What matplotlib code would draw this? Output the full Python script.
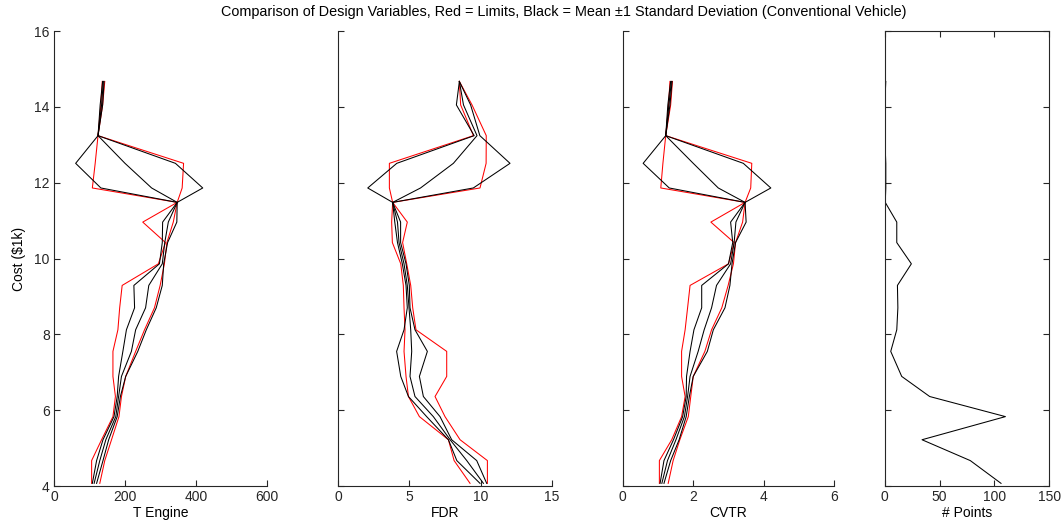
import matplotlib
matplotlib.use('Agg')
import matplotlib.pyplot as plt

plt.rcParams['font.family'] = ['Liberation Sans', 'DejaVu Sans']

# cost bins ($1k)
cost = [4.07, 4.67, 5.22, 5.83, 6.36, 6.89, 7.55, 8.12, 8.70, 9.29,
        9.86, 10.42, 10.96, 11.48, 11.86, 12.51, 13.24, 14.05, 14.67]

# T Engine
teng_min = [106, 106, 134, 166, 173, 166, 166, 180, 185, 192, 294, 314, 250, 347, 108, 116, 124, 132, 136]
teng_max = [129, 143, 162, 183, 190, 202, 230, 255, 283, 299, 311, 318, 336, 347, 361, 365, 124, 137, 143]
teng_lo = [108, 120, 138, 169, 178, 182, 194, 204, 227, 225, 297, 305, 306, 347, 132, 61, 124, 130, 137]
teng_mean = [113, 129, 146, 174, 182, 190, 218, 230, 258, 267, 305, 312, 322, 347, 275, 200, 124, 134, 139]
teng_hi = [120, 138, 154, 178, 187, 202, 236, 260, 288, 305, 309, 320, 346, 347, 419, 342, 124, 137, 141]

# FDR
fdr_min = [9.26, 8.14, 7.74, 5.70, 4.93, 4.76, 4.62, 4.69, 4.62, 4.57, 4.39, 3.80, 3.75, 3.82, 3.59, 3.59, 9.50, 8.60, 8.51]
fdr_max = [10.48, 10.48, 8.56, 7.50, 6.80, 7.62, 7.62, 5.46, 5.23, 5.09, 4.81, 4.52, 4.85, 3.82, 9.96, 10.39, 10.40, 9.40, 8.51]
fdr_lo = [9.96, 8.33, 7.74, 6.21, 4.93, 4.39, 4.10, 4.62, 4.85, 4.76, 4.50, 4.16, 3.97, 3.82, 2.07, 4.11, 9.55, 8.30, 8.51]
fdr_mean = [10.20, 9.03, 7.86, 6.68, 5.39, 5.04, 5.16, 5.09, 4.97, 4.85, 4.62, 4.27, 4.16, 3.82, 5.78, 8.09, 9.75, 8.80, 8.51]
fdr_hi = [10.43, 9.73, 7.97, 7.15, 5.98, 5.70, 6.26, 5.39, 5.04, 4.99, 4.76, 4.38, 4.38, 3.82, 9.49, 12.07, 9.95, 9.30, 8.51]

# CVTR
cvtr_min = [1.04, 1.04, 1.39, 1.67, 1.77, 1.67, 1.67, 1.77, 1.84, 1.91, 3.00, 3.16, 2.50, 3.47, 1.08, 1.14, 1.22, 1.30, 1.34]
cvtr_max = [1.29, 1.43, 1.62, 1.86, 1.93, 2.00, 2.33, 2.52, 2.81, 2.99, 3.14, 3.20, 3.40, 3.47, 3.63, 3.66, 1.22, 1.36, 1.41]
cvtr_lo = [1.06, 1.17, 1.44, 1.70, 1.80, 1.81, 1.91, 2.02, 2.24, 2.24, 3.00, 3.12, 3.06, 3.47, 1.32, 0.58, 1.22, 1.28, 1.36]
cvtr_mean = [1.11, 1.27, 1.51, 1.75, 1.84, 1.91, 2.14, 2.31, 2.52, 2.66, 3.06, 3.16, 3.21, 3.47, 2.71, 2.00, 1.22, 1.31, 1.38]
cvtr_hi = [1.17, 1.36, 1.60, 1.80, 1.89, 2.00, 2.40, 2.57, 2.90, 3.04, 3.10, 3.20, 3.50, 3.47, 4.20, 3.42, 1.22, 1.34, 1.40]

# number of points per bin
npoints = [106, 78, 34, 110, 41, 15.5, 5.5, 11, 12, 11.6, 24.3, 11, 11, 0.5, 1, 1, 0, 0, 1]

fig = plt.figure(figsize=(10.64, 5.31), dpi=100)

W, H = 1064.0, 531.0
bot = (H - 486) / H
hgt = 455 / H
rects = [(54, 213), (338.3, 213.4), (622.7, 211.6), (884.7, 164.6)]

panels = [
    ('T Engine', [0, 600], [0, 200, 400, 600], teng_min, teng_max, teng_lo, teng_mean, teng_hi),
    ('FDR', [0, 15], [0, 5, 10, 15], fdr_min, fdr_max, fdr_lo, fdr_mean, fdr_hi),
    ('CVTR', [0, 6], [0, 2, 4, 6], cvtr_min, cvtr_max, cvtr_lo, cvtr_mean, cvtr_hi),
]

axes = []
for i, (l, w) in enumerate(rects):
    ax = fig.add_axes([l / W, bot, w / W, hgt])
    ax.set_ylim(4, 16)
    ax.set_yticks([4, 6, 8, 10, 12, 14, 16])
    ax.tick_params(direction='in', length=4, width=0.8, labelsize=10, pad=3, colors='#262626')
    for s in ax.spines.values():
        s.set_linewidth(0.8)
        s.set_color('#262626')
    if i > 0:
        ax.set_yticklabels([])
    axes.append(ax)

for ax, (name, xl, xt, mn, mx, lo, me, hi) in zip(axes[:3], panels):
    ax.plot(mn, cost, color='red', lw=0.75)
    ax.plot(mx, cost, color='red', lw=0.75)
    ax.plot(lo, cost, color='black', lw=0.75)
    ax.plot(me, cost, color='black', lw=0.75)
    ax.plot(hi, cost, color='black', lw=0.75)
    ax.set_xlim(xl)
    ax.set_xticks(xt)
    ax.set_xlabel(name, fontsize=10, labelpad=1)
    ax.spines['top'].set_visible(False)
    ax.spines['right'].set_visible(False)

ax4 = axes[3]
ax4.plot(npoints, cost, color='black', lw=0.75)
ax4.set_xlim(0, 150)
ax4.set_xticks([0, 50, 100, 150])
ax4.set_xlabel('# Points', fontsize=10, labelpad=1)
ax4.tick_params(top=True, right=True)

axes[0].set_ylabel('Cost ($1k)', fontsize=10, labelpad=6)

fig.text(0.53, 0.977, 'Comparison of Design Variables, Red = Limits, Black = Mean \u00b11 Standard Deviation (Conventional Vehicle)',
         ha='center', va='center', fontsize=10.4)

fig.savefig('out.png', dpi=100)
